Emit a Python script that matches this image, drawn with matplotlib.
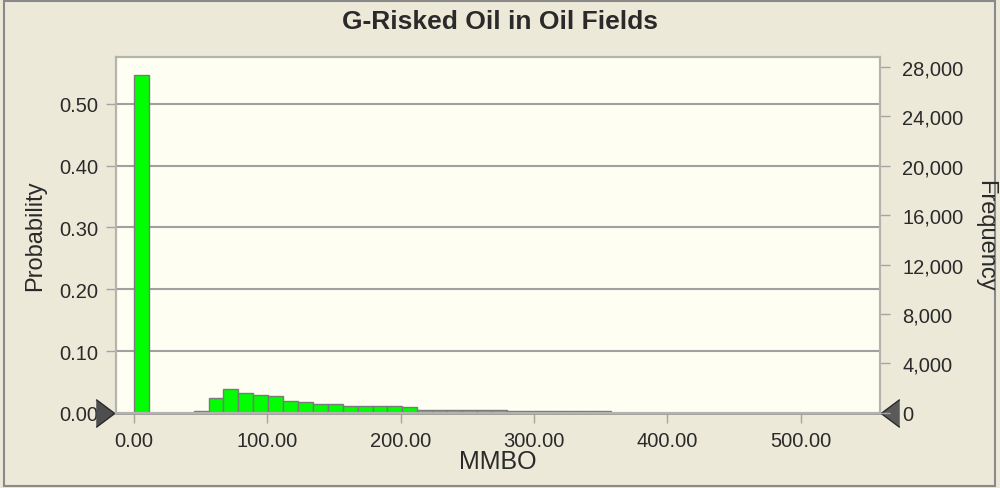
import matplotlib
matplotlib.use("Agg")
import matplotlib.pyplot as plt
from matplotlib.patches import Rectangle
from matplotlib.ticker import FuncFormatter
import numpy as np

plt.rcParams['font.family'] = ['Liberation Sans', 'DejaVu Sans']

# histogram data (probability per bin)
bin_width = 11.18
probability = [0.547, 0.0, 0.0, 0.0, 0.003, 0.024, 0.038, 0.032, 0.0295, 0.027,
               0.020, 0.018, 0.014, 0.014, 0.0113, 0.0113, 0.011, 0.011, 0.009,
               0.0045, 0.0045, 0.0045, 0.0045, 0.0045, 0.0045,
               0.003, 0.003, 0.003, 0.003, 0.003, 0.003, 0.003,
               0.0006, 0.0006, 0.0006, 0.0006, 0.0006, 0.0006, 0.0006, 0.0006,
               0.0006, 0.0006, 0.0006, 0.0006, 0.0006, 0.0006, 0.0006, 0.0006, 0.0006]
trials = 50000

x_ticks = [0, 100, 200, 300, 400, 500]
prob_ticks = [0.0, 0.1, 0.2, 0.3, 0.4, 0.5]
freq_ticks = [0, 4000, 8000, 12000, 16000, 20000, 24000, 28000]

bg = '#ECE9D8'
plot_bg = '#FEFEF2'
grey = '#A4A4A0'
txt = '#2A2A2A'

fig = plt.figure(figsize=(10, 4.89), dpi=100, facecolor=bg)
ax = fig.add_axes([0.116, 0.1534, 0.764, 0.7274])
ax.set_facecolor(plot_bg)

edges = np.arange(len(probability)) * bin_width
ax.bar(edges, probability, width=bin_width, align='edge', color='#00FF00',
       edgecolor='#7A7A7A', linewidth=1, zorder=3)

ax.set_xlim(-13.5, 559.5)
ax.set_ylim(0, 0.575)
ax.set_xticks(x_ticks)
ax.set_xticklabels(['%.2f' % v for v in x_ticks])
ax.set_yticks(prob_ticks)
ax.set_yticklabels(['%.2f' % v for v in prob_ticks])
ax.yaxis.grid(True, color='#A0A0A0', linewidth=1.5, zorder=0)
ax.set_axisbelow(True)
ax.tick_params(axis='both', length=7, width=1, color=grey, labelsize=14.5,
               labelcolor=txt, pad=6)

ax2 = ax.twinx()
ax2.set_ylim(0, 0.575 * trials)
ax2.set_yticks(freq_ticks)
ax2.yaxis.set_major_formatter(FuncFormatter(lambda v, p: '{:,}'.format(int(v))))
ax2.tick_params(axis='y', length=7, width=1, color=grey, labelsize=14.5,
                labelcolor=txt, pad=9)

for a in (ax, ax2):
    for s in a.spines.values():
        s.set_color('#B4B4AC')
        s.set_linewidth(1.5)
ax.spines['bottom'].set_color('#9C9C98')
ax.spines['bottom'].set_linewidth(2)

# slider triangles at the ends of the x axis
tri_right = [(-1, -1.5), (1, 0), (-1, 1.5)]
tri_left = [(1, -1.5), (-1, 0), (1, 1.5)]
ax.plot([-0.0145], [0], transform=ax.transAxes, clip_on=False, marker=tri_right,
        markersize=20, color='#4E4E4E', markeredgecolor='#2A2A2A', zorder=10)
ax.plot([1.0135], [0], transform=ax.transAxes, clip_on=False, marker=tri_left,
        markersize=20, color='#5A5A5A', markeredgecolor='#2A2A2A', zorder=10)

fig.text(0.5, 1 - 22 / 489, 'G-Risked Oil in Oil Fields', ha='center', va='center',
         fontsize=19, fontweight='bold', color=txt)
fig.text(0.035, 1 - 236 / 489, 'Probability', rotation=90, ha='center', va='center',
         fontsize=17, color=txt)
fig.text(0.985, 1 - 236 / 489, 'Frequency', rotation=-90, ha='center', va='center',
         fontsize=17, color=txt)
fig.text(0.498, 1 - 462 / 489, 'MMBO', ha='center', va='center', fontsize=18, color=txt)

fig.patches.append(Rectangle((0.004, 0.005), 0.991, 0.99, transform=fig.transFigure,
                             fill=False, edgecolor='#8A8A8A', linewidth=1.5))

fig.savefig('out.png', dpi=100, facecolor=bg)
